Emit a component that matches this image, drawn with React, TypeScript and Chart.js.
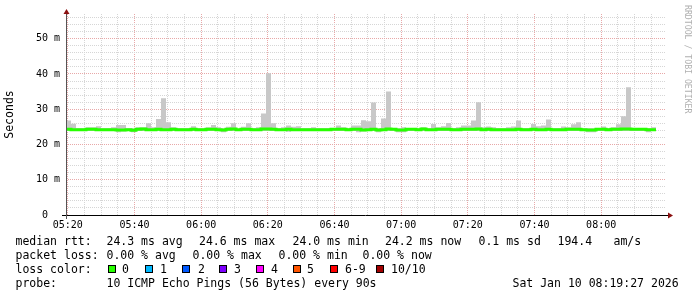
import React, { useEffect, useRef } from 'react';
import { Chart, registerables } from 'chart.js';

Chart.register(...registerables);

// time axis in minutes since midnight; one sample every 90 s
const START = 5 * 60 + 19 + 27 / 60; // 05:19:27
const END = START + 180; // 08:19:27
const STEP = 1.5;

const xTickValues = [320, 325, 330, 335, 340, 345, 350, 355, 360, 365, 370, 375, 380, 385, 390, 395, 400, 405, 410, 415, 420, 425, 430, 435, 440, 445, 450, 455, 460, 465, 470, 475, 480, 485, 490, 495];
const xMajorLabels = ['05:20', '05:40', '06:00', '06:20', '06:40', '07:00', '07:20', '07:40', '08:00'];
const yTickValues = [0, 2, 4, 6, 8, 10, 12, 14, 16, 18, 20, 22, 24, 26, 28, 30, 32, 34, 36, 38, 40, 42, 44, 46, 48, 50, 52, 54, 56];
const yMajorLabels = ['0  ', '10 m', '20 m', '30 m', '40 m', '50 m'];

// ms, per 90 s sample
const rttMedian = [
  24.3, 24.2, 24.2, 24.2, 24.3, 24.3, 24.2, 24.2, 24.2, 24.2,
  24.1, 24.1, 24.2, 24.0, 24.3, 24.4, 24.2, 24.2, 24.3, 24.2,
  24.2, 24.3, 24.2, 24.2, 24.2, 24.3, 24.2, 24.2, 24.3, 24.3,
  24.2, 24.1, 24.3, 24.4, 24.2, 24.3, 24.3, 24.2, 24.2, 24.4,
  24.4, 24.3, 24.2, 24.2, 24.3, 24.2, 24.2, 24.2, 24.2, 24.2,
  24.2, 24.2, 24.2, 24.3, 24.3, 24.3, 24.2, 24.3, 24.3, 24.1,
  24.2, 24.3, 24.1, 24.2, 24.4, 24.3, 24.1, 24.1, 24.3, 24.3,
  24.2, 24.4, 24.2, 24.2, 24.3, 24.3, 24.3, 24.2, 24.2, 24.3,
  24.3, 24.3, 24.4, 24.2, 24.3, 24.2, 24.2, 24.2, 24.2, 24.2,
  24.3, 24.2, 24.2, 24.3, 24.2, 24.2, 24.3, 24.2, 24.2, 24.2,
  24.3, 24.3, 24.3, 24.2, 24.1, 24.1, 24.3, 24.3, 24.2, 24.3,
  24.3, 24.4, 24.4, 24.3, 24.3, 24.3, 24.2, 24.2,
];
const rttMax = [
  26.8, 25.9, 24.6, 24.6, 24.9, 24.9, 25.2, 24.6, 24.6, 24.9,
  25.5, 25.5, 24.6, 24.6, 24.9, 24.9, 26.0, 24.9, 27.2, 33.1,
  26.3, 24.9, 24.6, 24.6, 24.6, 25.2, 24.6, 24.6, 24.9, 25.5,
  24.9, 24.6, 25.0, 26.0, 24.4, 25.0, 26.0, 24.6, 24.9, 28.8,
  40.2, 26.0, 24.6, 24.9, 25.4, 25.0, 25.2, 24.6, 24.6, 24.9,
  24.6, 24.6, 24.6, 24.6, 25.4, 24.9, 24.6, 25.4, 25.4, 26.9,
  26.6, 31.9, 24.6, 27.4, 35.0, 24.6, 24.6, 24.9, 24.6, 24.6,
  24.6, 24.9, 24.6, 25.8, 24.9, 25.2, 26.1, 24.6, 24.9, 25.4,
  25.4, 26.8, 32.0, 24.9, 25.1, 24.9, 24.6, 24.6, 24.9, 25.1,
  26.8, 24.6, 24.6, 25.8, 25.2, 25.4, 27.1, 24.6, 24.6, 25.1,
  24.9, 25.7, 26.3, 24.6, 24.6, 24.6, 24.6, 25.1, 24.6, 24.9,
  25.7, 28.0, 36.2, 24.6, 24.6, 24.6, 24.6, 24.9,
];
const rttMin = [
  23.8, 23.8, 23.8, 23.8, 23.8, 23.8, 23.8, 23.8, 23.8, 23.8,
  23.5, 23.7, 23.8, 23.5, 23.8, 23.8, 23.8, 23.8, 23.8, 23.8,
  23.8, 23.8, 23.8, 23.8, 23.8, 23.8, 23.8, 23.8, 23.8, 23.8,
  23.8, 23.5, 23.8, 23.8, 23.8, 23.8, 23.8, 23.8, 23.8, 23.8,
  23.8, 23.8, 23.8, 23.8, 23.6, 23.8, 23.8, 23.8, 23.8, 23.8,
  23.8, 23.8, 23.8, 23.8, 23.8, 23.8, 23.8, 23.8, 23.5, 23.7,
  23.8, 23.8, 23.5, 23.8, 23.8, 23.8, 23.5, 23.5, 23.8, 23.8,
  23.8, 23.8, 23.8, 23.8, 23.8, 23.8, 23.8, 23.8, 23.8, 23.8,
  23.8, 23.8, 23.8, 23.8, 23.8, 23.8, 23.8, 23.8, 23.8, 23.8,
  23.8, 23.8, 23.8, 23.8, 23.8, 23.8, 23.8, 23.8, 23.8, 23.8,
  23.8, 23.8, 23.8, 23.8, 23.5, 23.5, 23.8, 23.8, 23.8, 23.8,
  23.8, 23.8, 23.8, 23.8, 23.8, 23.8, 23.5, 23.8,
];

const rttStats = ['24.3 ms avg', '24.6 ms max', '24.0 ms min', '24.2 ms now', '0.1 ms sd', '194.4', 'am/s'];
const lossStats = ['0.00 % avg', '0.00 % max', '0.00 % min', '0.00 % now'];
const lossLabels = ['0', '1', '2', '3', '4', '5', '6-9', '10/10'];
const lossColors = ['#26ff00', '#00b8ff', '#0059ff', '#7e00ff', '#ff00ff', '#ff5500', '#ff0000', '#a00000'];
const probeText = '10 ICMP Echo Pings (56 Bytes) every 90s';
const dateText = 'Sat Jan 10 08:19:27 2026';

const stepPoints = (vals: number[]) => {
  const pts = vals.map((v, i) => ({ x: START + i * STEP, y: v }));
  pts.push({ x: START + vals.length * STEP, y: vals[vals.length - 1] });
  return pts;
};

const MONO = '"DejaVu Sans Mono", monospace';

const decorations = {
  id: 'smokeDecor',
  afterDraw(chart: any) {
    const ctx = chart.ctx as CanvasRenderingContext2D;
    const a = chart.chartArea;
    ctx.save();
    // axes
    ctx.lineWidth = 1;
    ctx.strokeStyle = '#000';
    ctx.beginPath();
    ctx.moveTo(a.left - 4, a.bottom + 0.5);
    ctx.lineTo(a.right + 3, a.bottom + 0.5);
    ctx.stroke();
    ctx.strokeStyle = '#555';
    ctx.beginPath();
    ctx.moveTo(a.left + 0.5, a.bottom + 4);
    ctx.lineTo(a.left + 0.5, a.top - 1);
    ctx.stroke();
    // arrows
    ctx.fillStyle = '#8b1010';
    ctx.beginPath();
    ctx.moveTo(a.right + 7, a.bottom + 0.5);
    ctx.lineTo(a.right + 2, a.bottom - 2.5);
    ctx.lineTo(a.right + 2, a.bottom + 3.5);
    ctx.closePath();
    ctx.fill();
    ctx.beginPath();
    ctx.moveTo(a.left + 0.5, a.top - 5);
    ctx.lineTo(a.left - 2.5, a.top);
    ctx.lineTo(a.left + 3.5, a.top);
    ctx.closePath();
    ctx.fill();

    // y title
    ctx.fillStyle = '#000';
    ctx.font = '11.5px ' + MONO;
    ctx.textAlign = 'center';
    ctx.textBaseline = 'middle';
    ctx.save();
    ctx.translate(10, (a.top + a.bottom) / 2);
    ctx.rotate(-Math.PI / 2);
    ctx.fillText('Seconds', 0, 0);
    ctx.restore();

    // watermark
    ctx.save();
    ctx.fillStyle = '#b0b0b0';
    ctx.font = '8.2px ' + MONO;
    ctx.textAlign = 'left';
    ctx.textBaseline = 'middle';
    ctx.translate(687, 5);
    ctx.rotate(Math.PI / 2);
    ctx.fillText('RRDTOOL / TOBI OETIKER', 0, 0);
    ctx.restore();

    // legend rows
    ctx.fillStyle = '#000';
    ctx.font = '11.5px ' + MONO;
    ctx.textAlign = 'left';
    ctx.textBaseline = 'alphabetic';
    const rows = [245.3, 259.2, 273.1, 287];
    ctx.fillText('median rtt:', 15.5, rows[0]);
    const rttX = [106.5, 199, 292.5, 385, 478.5, 557.5, 613.5];
    rttStats.forEach((s, i) => ctx.fillText(s, rttX[i], rows[0]));
    ctx.fillText('packet loss:', 15.5, rows[1]);
    const lossX = [106.5, 192.5, 278.5, 362.5];
    lossStats.forEach((s, i) => ctx.fillText(s, lossX[i], rows[1]));
    ctx.fillText('loss color:', 15.5, rows[2]);
    const boxX = [108, 145, 182, 219, 256, 293, 330, 376];
    const labX = [122, 160, 198, 234, 271, 307, 345, 391];
    lossLabels.forEach((l, i) => {
      ctx.fillStyle = lossColors[i];
      ctx.fillRect(boxX[i], 265, 8, 8);
      ctx.strokeStyle = '#000';
      ctx.strokeRect(boxX[i] + 0.5, 265.5, 7, 7);
      ctx.fillStyle = '#000';
      ctx.fillText(l, labX[i], rows[2]);
    });
    ctx.fillText('probe:', 15.5, rows[3]);
    ctx.fillText(probeText, 106.5, rows[3]);
    ctx.fillText(dateText, 512.5, rows[3]);
    ctx.restore();
  },
};

const isMajorX = (v: number) => Math.round(v - 320) % 20 === 0;
const isMajorY = (v: number) => Math.round(v) % 10 === 0;
const fmtTime = (v: number) => {
  const h = Math.floor(v / 60);
  const m = Math.round(v - h * 60);
  return String(h).padStart(2, '0') + ':' + String(m).padStart(2, '0');
};

export default function App() {
  const ref = useRef<HTMLCanvasElement>(null);
  useEffect(() => {
    document.body.style.margin = '0';
    const canvas = ref.current!;
    const chart = new Chart(canvas, {
      type: 'line',
      data: {
        datasets: [
          {
            label: 'median',
            data: stepPoints(rttMedian),
            borderColor: '#26ff00',
            borderWidth: 3,
            stepped: 'before',
            fill: false,
            pointRadius: 0,
            order: 0,
          },
          {
            label: 'min',
            data: stepPoints(rttMin),
            borderWidth: 0,
            borderColor: 'rgba(0,0,0,0)',
            stepped: 'before',
            fill: false,
            pointRadius: 0,
            order: 2,
          },
          {
            label: 'max',
            data: stepPoints(rttMax),
            borderWidth: 0,
            borderColor: 'rgba(0,0,0,0)',
            backgroundColor: '#c8c8c8',
            stepped: 'before',
            fill: 1,
            pointRadius: 0,
            order: 1,
          },
        ],
      } as any,
      options: {
        animation: false,
        responsive: false,
        devicePixelRatio: 1,
        layout: { padding: { top: 14, right: 31, left: 0, bottom: 0 } },
        plugins: { legend: { display: false }, tooltip: { enabled: false }, title: { display: false } },
        elements: { point: { radius: 0 } },
        scales: {
          x: {
            type: 'linear',
            min: START,
            max: END,
            afterFit: (s: any) => { s.height = 82; },
            afterBuildTicks: (s: any) => { s.ticks = xTickValues.map((v) => ({ value: v })); },
            grid: {
              drawTicks: false,
              lineWidth: 1,
              color: (c: any) => (isMajorX(c.tick.value) ? '#e8a8a8' : '#d6d6d6'),
            },
            border: { display: false, dash: [1, 1] },
            ticks: {
              autoSkip: false,
              maxRotation: 0,
              padding: 4,
              color: '#000',
              font: { family: MONO, size: 10 },
              callback: (v: any) => (isMajorX(Number(v)) && xMajorLabels.includes(fmtTime(Number(v))) ? fmtTime(Number(v)) : ''),
            },
          },
          y: {
            type: 'linear',
            min: 0,
            max: 57,
            afterFit: (s: any) => { s.width = 66; },
            afterBuildTicks: (s: any) => { s.ticks = yTickValues.map((v) => ({ value: v })); },
            grid: {
              drawTicks: false,
              lineWidth: 1,
              color: (c: any) => (isMajorY(c.tick.value) ? '#e8a8a8' : '#d6d6d6'),
            },
            border: { display: false, dash: [1, 1] },
            ticks: {
              autoSkip: false,
              padding: 6,
              color: '#000',
              font: { family: MONO, size: 10 },
              callback: (v: any) => (isMajorY(Number(v)) ? yMajorLabels[Math.round(Number(v)) / 10] : ''),
            },
          },
        },
      } as any,
      plugins: [decorations],
    });
    return () => chart.destroy();
  }, []);
  return (
    <div style={{ width: 697, height: 297 }}>
      <canvas ref={ref} width={697} height={297} style={{ display: 'block', width: 697, height: 297 }} />
    </div>
  );
}
